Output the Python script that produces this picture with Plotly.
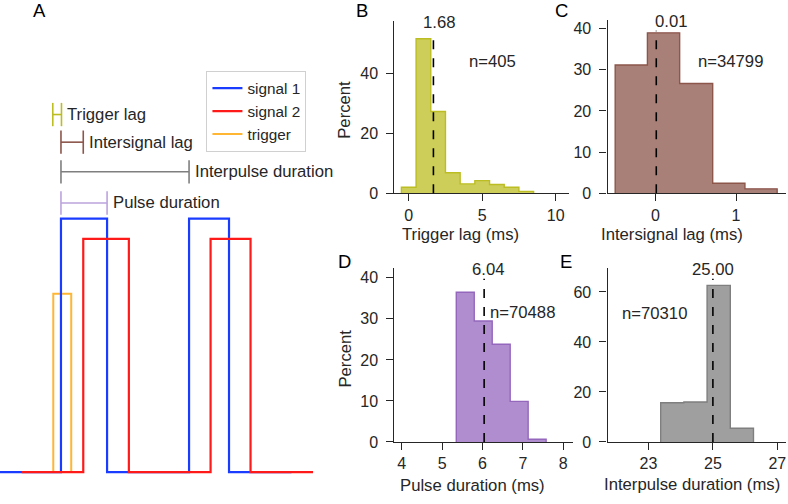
import plotly.graph_objects as go

# ---------------- data ----------------
# Panel A: schematic signals (time in ms, normalised level), step points
sig1_t = [-11.9, 0.0, 9.0, 25.0, 32.8, 45.0]
sig1_v = [0, 1.0, 0, 1.0, 0, 0]
sig2_t = [-7.66, 4.35, 13.25, 29.2, 37.0, 49.2]
sig2_v = [0, 0.92, 0, 0.92, 0, 0]
trig_t = [-1.5, -1.5, 2.0]
trig_v = [0, 0.704, 0]

bracket_labels = ["Trigger lag", "Intersignal lag", "Interpulse duration", "Pulse duration"]
bracket_start = [-1.6, 0.0, 0.0, 0.0]
bracket_end = [0.1, 4.35, 25.0, 9.0]
bracket_level = [1.411, 1.302, 1.185, 1.062]
bracket_colors = ["#bcbd22", "#8c564b", "#7f7f7f", "#bba3dd"]

# Histograms (bin edges, percent)
trig_edges = [-0.5, 0.5, 1.5, 2.5, 3.5, 4.5, 5.5, 6.5, 7.5, 8.5]
trig_pct = [2.0, 51.6, 27.3, 6.8, 3.1, 4.2, 2.9, 2.0, 0.6]
inter_edges = [-0.50, -0.10, 0.30, 0.71, 1.11, 1.51]
inter_pct = [31.2, 39.0, 26.7, 2.4, 1.05]
pulse_edges = [5.35, 5.795, 6.24, 6.685, 7.13, 7.575]
pulse_pct = [36.5, 29.5, 23.8, 9.9, 0.65]
ipd_edges = [23.38, 24.10, 24.82, 25.54, 26.26]
ipd_pct = [15.7, 16.0, 62.6, 5.5]

medians = [1.68, 0.01, 6.04, 25.00]
median_labels = ["1.68", "0.01", "6.04", "25.00"]
counts = ["n=405", "n=34799", "n=70488", "n=70310"]
xtitles = ["Trigger lag (ms)", "Intersignal lag (ms)", "Pulse duration (ms)", "Interpulse duration (ms)"]
xticks = [[0, 5, 10], [0, 1], [4, 5, 6, 7, 8], [23, 25, 27]]
yticks = [[0, 20, 40], [0, 10, 20, 30, 40], [0, 10, 20, 30, 40], [0, 20, 40, 60]]

# ---------------- styling ----------------
W, H = 788, 504
FONT = "Liberation Sans, Arial, sans-serif"
TXT = "#262626"
FS = 16.7
TFS = 16
LFS = 15.3

fig = go.Figure()

# Panel A (axes x5/y5, hidden)
fig.add_trace(go.Scatter(x=trig_t, y=trig_v, mode="lines", line=dict(color="#ffb733", width=2, shape="hv"),
                         name="trigger", legendrank=3, xaxis="x5", yaxis="y5"))
fig.add_trace(go.Scatter(x=sig1_t, y=sig1_v, mode="lines", line=dict(color="#1a3cff", width=2.2, shape="hv"),
                         name="signal 1", legendrank=1, xaxis="x5", yaxis="y5"))
fig.add_trace(go.Scatter(x=sig2_t, y=sig2_v, mode="lines", line=dict(color="#ff1a1a", width=2.2, shape="hv"),
                         name="signal 2", legendrank=2, xaxis="x5", yaxis="y5"))

cap = 0.046
for lab, s, e, lv, c in zip(bracket_labels, bracket_start, bracket_end, bracket_level, bracket_colors):
    fig.add_trace(go.Scatter(
        x=[s, e, None, s, s, None, e, e],
        y=[lv, lv, None, lv - cap, lv + cap, None, lv - cap, lv + cap],
        mode="lines", line=dict(color=c, width=1.6), showlegend=False, xaxis="x5", yaxis="y5"))
    fig.add_annotation(x=e, y=lv, xref="x5", yref="y5", text=lab, showarrow=False,
                       xanchor="left", yanchor="middle", xshift=4,
                       font=dict(size=FS, color=TXT, family=FONT))

# Histogram panels
hist_data = [(trig_edges, trig_pct, "#bcbd22", "rgba(188,189,34,0.75)"),
             (inter_edges, inter_pct, "#8c564b", "rgba(140,86,75,0.75)"),
             (pulse_edges, pulse_pct, "#9467bd", "rgba(148,103,189,0.75)"),
             (ipd_edges, ipd_pct, "#7f7f7f", "rgba(127,127,127,0.75)")]

ax_names = ["", "2", "3", "4"]
for i, (edges, pct, lc, fc) in enumerate(hist_data):
    xs = [edges[0]] + list(edges[:-1]) + [edges[-1], edges[-1]]
    ys = [0] + list(pct) + [pct[-1], 0]
    fig.add_trace(go.Scatter(x=xs, y=ys, mode="lines", line=dict(color=lc, width=1.4, shape="hv"),
                             fill="tozeroy", fillcolor=fc, showlegend=False,
                             xaxis="x" + ax_names[i], yaxis="y" + ax_names[i]))

# domains in pixels
px_dom = [(395, 570, 21.7, 196.7), (608.3, 786.7, 20.7, 196.7),
          (395, 573.3, 273.3, 450), (608.3, 786.7, 273.3, 450)]
xranges = [[-0.97, 10.93], [-0.595, 1.616], [3.82, 8.23], [21.73, 27.26]]
yranges = [[0, 57.4], [0, 42.05], [0, 42.3], [0, 69.4]]
label_shift = [6, 15, 4, 0]
count_pos = [(0.562, 0.768), (0.692, 0.764), (0.72, 0.745), (0.262, 0.741)]
xtitle_pos = [(461, 239), (673.3, 238.5), (473.3, 494), (693.3, 493.5)]
ytitle_pos = [(345.5, 111.7), None, (345.5, 365), None]

layout_axes = {}
for i in range(4):
    x0, x1, yt, yb = px_dom[i]
    xn = "xaxis" + ax_names[i]
    yn = "yaxis" + ax_names[i]
    xa = dict(domain=[x0 / W, x1 / W], range=xranges[i], anchor="y" + ax_names[i],
              showline=True, linecolor=TXT, linewidth=1.3, ticks="outside", ticklen=7,
              tickwidth=1.3, tickcolor=TXT, tickvals=xticks[i], showgrid=False, zeroline=False,
              tickfont=dict(size=TFS, color=TXT, family=FONT))
    ya = dict(domain=[1 - yb / H, 1 - yt / H], range=yranges[i], anchor="x" + ax_names[i],
              showline=True, linecolor=TXT, linewidth=1.3, ticks="outside", ticklen=7,
              tickwidth=1.3, tickcolor=TXT, tickvals=yticks[i], showgrid=False, zeroline=False,
              tickfont=dict(size=TFS, color=TXT, family=FONT), ticklabelstandoff=5)
    layout_axes[xn] = xa
    layout_axes[yn] = ya

    xr = "x" + ax_names[i]
    yr = "y" + ax_names[i]
    fig.add_shape(type="line", xref=xr, yref=yr + " domain", x0=medians[i], x1=medians[i],
                  y0=0, y1=0.94, line=dict(color="black", width=1.6, dash="dash"))
    fig.add_annotation(x=medians[i], y=1.0, xref=xr, yref=yr + " domain", text=median_labels[i],
                       showarrow=False, xanchor="center", yanchor="middle", xshift=label_shift[i], yshift=-1,
                       font=dict(size=FS, color=TXT, family=FONT))
    fig.add_annotation(x=count_pos[i][0], y=count_pos[i][1], xref=xr + " domain", yref=yr + " domain",
                       text=counts[i], showarrow=False, xanchor="center", yanchor="middle",
                       font=dict(size=FS, color=TXT, family=FONT))
    tx, ty = xtitle_pos[i]
    fig.add_annotation(x=tx / W, y=1 - ty / H, xref="paper", yref="paper", text=xtitles[i],
                       showarrow=False, xanchor="center", yanchor="middle",
                       font=dict(size=FS, color=TXT, family=FONT))
    if ytitle_pos[i] is not None:
        px_, py_ = ytitle_pos[i]
        fig.add_annotation(x=px_ / W, y=1 - py_ / H, xref="paper", yref="paper", text="Percent",
                           showarrow=False, xanchor="center", yanchor="middle", textangle=-90,
                           font=dict(size=FS, color=TXT, family=FONT))

# Panel A axes (hidden)
layout_axes["xaxis5"] = dict(domain=[0, 0.4], range=[-11.9, -11.9 + 315.2 / 5.13], visible=False, anchor="y5")
layout_axes["yaxis5"] = dict(domain=[0, 1], range=[-0.0903, 1.863], visible=False, anchor="x5")

# panel letters
for letter, (lx, ly) in zip("ABCDE", [(40, 11), (362, 11), (562, 11), (345, 266), (567, 266)]):
    fig.add_annotation(x=lx / W, y=1 - ly / H, xref="paper", yref="paper", text=letter, showarrow=False,
                       xanchor="center", yanchor="middle", font=dict(size=18.5, color="black", family=FONT))

fig.update_layout(
    width=W, height=H, margin=dict(l=0, r=0, t=0, b=0),
    paper_bgcolor="white", plot_bgcolor="white",
    font=dict(family=FONT, color=TXT, size=FS),
    showlegend=True,
    legend=dict(x=206.7 / W, y=1 - 72 / H, xanchor="left", yanchor="top",
                bordercolor="#d0d0d0", borderwidth=1, bgcolor="white",
                font=dict(size=LFS, color=TXT, family=FONT), itemwidth=30, tracegroupgap=0),
    hovermode=False,
    **layout_axes,
)

fig.write_html("out.html", config={"displayModeBar": False})
